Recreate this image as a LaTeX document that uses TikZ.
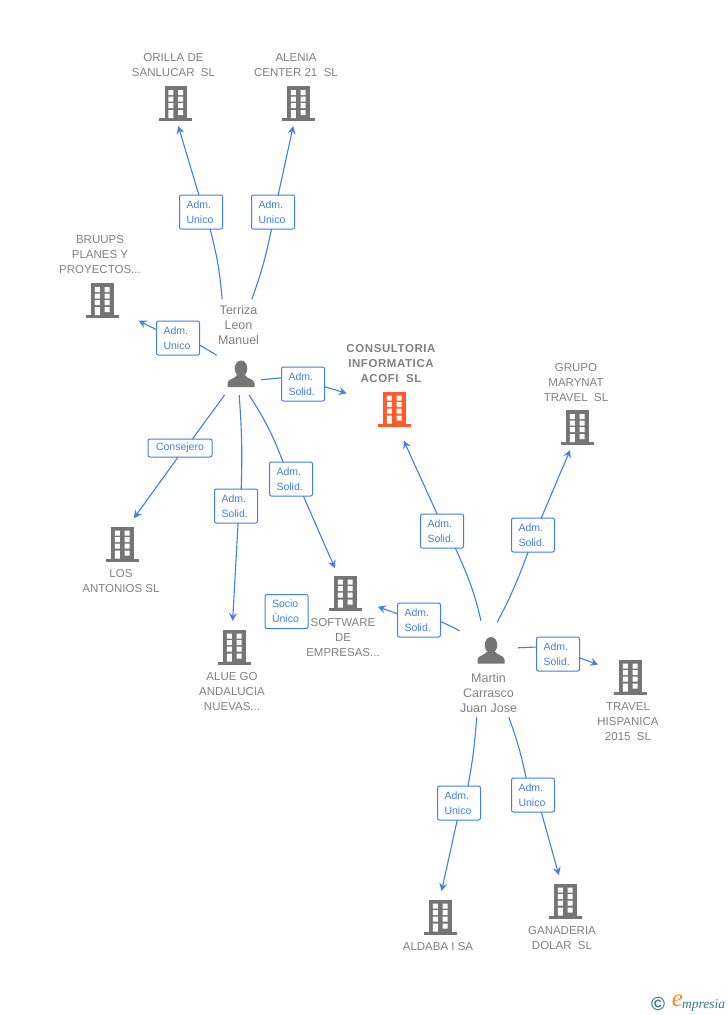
\documentclass[tikz,border=0pt]{standalone}
\usepackage{fontspec}
\setmainfont{Liberation Sans}
\newfontfamily\logofont{Liberation Serif}
\usetikzlibrary{arrows.meta}
\definecolor{linkblue}{HTML}{3F80E0}
\definecolor{bodygray}{HTML}{757575}
\definecolor{namegray}{HTML}{808080}
\definecolor{mainorange}{HTML}{FF5A2B}
\definecolor{logoteal}{HTML}{2F7C90}
\definecolor{logoorange}{HTML}{F08A1D}
\tikzset{
  x=1pt,y=-1pt,
  pics/bld/.style={code={
    \fill[#1] (-11,-17.5) rectangle (11.5,15);
    \fill[#1] (-16.5,14.5) rectangle (16.5,17.5);
    \fill[white] (-7.2,-13.5) rectangle (-2.2,-8.5) (2.5,-13.5) rectangle (7.5,-8.5)
      (-7.2,-6.8) rectangle (-2.2,-1.8) (2.5,-6.8) rectangle (7.5,-1.8)
      (-7.2,-0.5) rectangle (-2.2,4.5) (2.5,-0.5) rectangle (7.5,4.5)
      (-7.2,6.5) rectangle (-2.2,14.5) (2.5,6.5) rectangle (7.5,11.5);
  }},
  pics/person/.style={code={
    \fill[bodygray] (0,-5.5) ellipse[x radius=6.3,y radius=8];
    \fill[bodygray] (-13.5,13) -- (-13.5,9) .. controls (-13.5,5) and (-6,5) .. (-4,1)
      -- (4,1) .. controls (6,5) and (13.5,5) .. (13.5,9) -- (13.5,13) -- cycle;
  }},
  bldbox/.style={minimum width=33pt,minimum height=35pt,inner sep=0pt,outer sep=5pt},
  personbox/.style={minimum width=40pt,minimum height=42pt,inner sep=0pt,outer sep=0pt},
  nametext/.style={text=namegray,font=\fontsize{11.5}{15}\selectfont,align=center,inner sep=0pt},
  persontext/.style={text=namegray,font=\fontsize{12.5}{15}\selectfont,align=center,inner sep=0pt},
  lab/.style={draw=linkblue,line width=1pt,rounded corners=2pt,fill=white,text=linkblue,
    font=\fontsize{10.5}{15}\selectfont,align=left,text width=29pt,inner sep=0pt,outer sep=0pt,
    minimum width=43pt,minimum height=34pt},
  conn/.style={draw=linkblue,line width=1.1pt},
  arr/.style={conn,-{Stealth[length=8pt,width=8pt,inset=3pt]}}
}
\begin{document}
\begin{tikzpicture}
\useasboundingbox (0,0) rectangle (728,1015);
% buildings
\foreach \n/\cx/\cy/\c in {orilla/175.5/103.5/bodygray,alenia/298/103.5/bodygray,bruups/102/300.5/bodygray,
  consultoria/394/409/mainorange,grupo/577/427.5/bodygray,antonios/122/544/bodygray,software/345/593/bodygray,
  alue/234/647/bodygray,travel/630/677/bodygray,aldaba/440/917/bodygray,ganaderia/565/901/bodygray}{
  \node[bldbox] (\n) at (\cx,\cy) {};
  \pic at (\n) {bld=\c};
}
% people
\node[personbox] (terriza) at (241,374) {};
\pic at (terriza) {person};
\node[personbox] (martin) at (491,650.5) {};
\pic at (martin) {person};
% names
\node[persontext,minimum height=52pt] (terrizat) at (238.5,325.5) {Terriza\\Leon\\Manuel};
\node[persontext,minimum height=48pt] (martint) at (488.5,693) {Martin\\Carrasco\\Juan Jose};
\node[nametext] at (173.5,65) {ORILLA DE\\SANLUCAR\ \ SL};
\node[nametext] at (296,65) {ALENIA\\CENTER 21\ \ SL};
\node[nametext] at (100,254.5) {BRUUPS\\PLANES Y\\PROYECTOS...};
\node[nametext,font=\fontsize{11.5}{15}\selectfont\bfseries\addfontfeatures{LetterSpace=5}] at (391,363.5) {CONSULTORIA\\INFORMATICA\\ACOFI\ \ SL};
\node[nametext] at (576,382.5) {GRUPO\\MARYNAT\\TRAVEL\ \ SL};
\node[nametext] at (121,581) {LOS\\ANTONIOS SL};
\node[nametext] at (343,637.5) {SOFTWARE\\DE\\EMPRESAS...};
\node[nametext] at (232,691.5) {ALUE GO\\ANDALUCIA\\NUEVAS...};
\node[nametext] at (628,721.5) {TRAVEL\\HISPANICA\\2015\ \ SL};
\node[nametext] at (438,946.5) {ALDABA I SA};
\node[nametext] at (562,938) {GANADERIA\\DOLAR\ \ SL};
% labels
\node[lab] (l1) at (201,212) {Adm.\\Unico};
\node[lab] (l2) at (273,212) {Adm.\\Unico};
\node[lab] (l3) at (178,338) {Adm.\\Unico};
\node[lab] (l4) at (303,384) {Adm.\\Solid.};
\node[lab,minimum width=64pt,minimum height=18pt,text width=50pt,align=center] (l5) at (180,448) {Consejero};
\node[lab] (l6) at (236,506) {Adm.\\Solid.};
\node[lab] (l7) at (291,479) {Adm.\\Solid.};
\node[lab] (m1) at (442,531) {Adm.\\Solid.};
\node[lab] (m2) at (533,535) {Adm.\\Solid.};
\node[lab] (m3) at (419,620) {Adm.\\Solid.};
\node[lab] (m4) at (558,654) {Adm.\\Solid.};
\node[lab] (m5) at (459,803) {Adm.\\Unico};
\node[lab] (m6) at (533,795) {Adm.\\Unico};
\node[lab] (socio) at (286.5,611.5) {Socio\\Único};
% connectors from Terriza
\draw[conn] (terrizat.122.7) to[bend right=5] (l1.-62);
\draw[arr] (l1.97) -- (orilla.-83.7);
\draw[conn] (terrizat.63) to[bend right=4] (l2.-95);
\draw[arr] (l2.73.6) -- (alenia.-102.5);
\draw[conn,shorten <=5pt] (terriza.141.6) -- (l3.-18);
\draw[arr,shorten >=17pt] (l3.159.6) -- (bruups.-30.3);
\draw[conn] (terriza.-16.7) -- (l4.164.7);
\draw[arr,shorten >=27pt] (l4.-7.8) -- (consultoria.160.5);
\draw[conn] (terriza.232.7) -- (l5.36.9);
\draw[arr,shorten >=4pt] (l5.-102) -- (antonios.67);
\draw[conn] (terriza.-95.4) to[bend left=3] (l6.73.6);
\draw[arr,shorten >=3.5pt] (l6.-83) -- (alue.94);
\draw[conn] (terriza.-69.1) to[bend left=6] (l7.115);
\draw[arr,shorten >=2.5pt] (l7.-54.8) -- (software.112);
% connectors from Martin
\draw[conn,shorten <=9pt] (martin.111.1) to[bend right=6] (m1.-52.6);
\draw[arr,shorten >=10pt] (m1.106) -- (consultoria.-76);
\draw[conn,shorten <=8pt] (martin.84) to[bend right=4] (m2.-106);
\draw[arr] (m2.64.8) -- (grupo.-107);
\draw[conn,shorten <=14pt] (martin.150) to[bend right=6] (m3.-4.4);
\draw[arr,shorten >=12pt] (m3.164) -- (software.-24.4);
\draw[conn,shorten <=7pt] (martin.7.4) -- (m4.162);
\draw[arr,shorten >=11pt] (m4.-10.5) -- (travel.158);
\draw[conn] (martint.-116.6) to[bend left=3] (m5.62);
\draw[arr,shorten >=3.5pt] (m5.-96.5) -- (aldaba.88);
\draw[conn] (martint.-50.2) to[bend left=4] (m6.112);
\draw[arr,shorten >=3.5pt] (m6.-64.8) -- (ganaderia.103);
% logo
\node[text=logoteal,font=\fontsize{19}{19}\selectfont\bfseries,inner sep=0pt] (logoc) at (658,1004) {©};
\node[text=logoorange,font=\fontsize{25}{25}\logofont\itshape,inner sep=0pt] (logoe) at (677.5,1001) {e};
\node[text=logoteal,font=\fontsize{13.5}{14}\logofont\itshape,inner sep=0pt,anchor=west] (logot) at (682,1005) {mpresia};
\end{tikzpicture}
\end{document}
